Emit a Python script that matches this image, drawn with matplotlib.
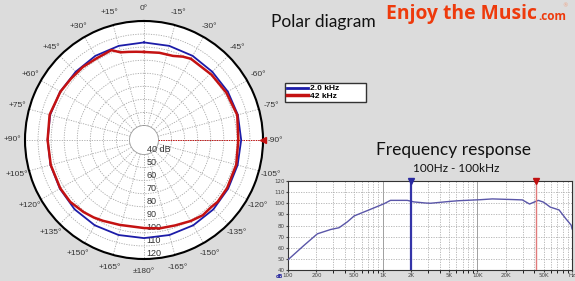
import numpy as np
import matplotlib
matplotlib.use('Agg')
import matplotlib.pyplot as plt
from matplotlib.lines import Line2D
from matplotlib.patches import Circle

# --- polar data: angle in degrees (+ = left of the axis), level in dB ---
angles_2k = [0, 15, 30, 45, 60, 75, 90, 105, 120, 135, 150, 165, 180,
             -165, -150, -135, -120, -105, -90, -75, -60, -45, -30, -15, 0]
level_2k = [103.6, 103.5, 103.3, 102.8, 103.0, 103.3, 102.7, 103.0, 103.3, 104.0, 104.3, 104.2, 104.0,
            104.2, 104.3, 104.0, 103.3, 103.1, 103.3, 103.3, 103.0, 102.8, 103.3, 103.5, 103.6]

angles_42k = [0, 5, 10, 15, 18, 20, 25, 30, 40, 50, 60, 75, 90, 105, 120, 130, 140, 147, 153, 164, 180,
              -170, -160, -150, -142, -135, -130, -120, -105, -90, -75, -60, -46, -40, -30, -25, -19, -10, 0]
level_42k = [96.3, 96.7, 97.4, 98.4, 100.5, 102.1, 101.3, 101.2, 101.8, 101.9, 102.8, 103.7, 102.7, 102.8, 102.9,
             102.6, 100.9, 99.6, 98.3, 96.5, 96.3,
             97.6, 98.5, 100.5, 102.0, 101.6, 102.5, 102.4, 102.0, 101.1, 102.8, 101.6, 100.8, 100.1, 100.7,
             99.3, 97.0, 96.7, 96.3]

ring_levels = [40, 50, 60, 70, 80, 90, 100, 110, 120]
ring_labels = ['40 dB', '50', '60', '70', '80', '90', '100', '110', '120']

# --- frequency response data ---
freq = [100, 147, 204, 282, 346, 424, 500, 717, 1030, 1210, 1820, 2140, 2850, 3200, 5200, 6400,
        10800, 14400, 24000, 29900, 35600, 44000, 50000, 59000, 73000, 85500, 98000, 100000]
level = [49.2, 62.0, 72.5, 76.4, 78.0, 83.3, 88.6, 94.0, 99.5, 102.6, 102.6, 101.2, 100.2, 100.0, 101.7, 102.3,
         103.2, 103.9, 103.3, 103.0, 99.3, 102.6, 101.0, 96.5, 94.0, 86.4, 80.3, 77.0]
freq_ticks = [100, 200, 500, 1000, 2000, 5000, 10000, 20000, 50000, 100000]
freq_labels = ['100', '200', '500', '1K', '2K', '5K', '10K', '20K', '50K', 'Hz']
marker_blue = 2000
marker_red = 42000

bg = '#dcdcdc'
blue = '#1c1ca8'
red = '#c41212'

fig = plt.figure(figsize=(5.75, 2.81), dpi=100, facecolor=bg)

# ---------------- polar diagram ----------------
ax = fig.add_axes([25 / 575, 22 / 281, 238 / 575, 238 / 281], projection='polar')
ax.set_theta_zero_location('N')
ax.set_theta_direction(1)
ax.set_rlim(40, 120)
ax.set_rorigin(28.9)
ax.add_patch(Circle((0.5, 0.5), 0.5, transform=ax.transAxes, facecolor='white',
                    edgecolor='none', zorder=0, clip_on=False))

tick_deg = np.arange(0, 360, 15)
tick_lab = []
for a in tick_deg:
    if a == 0:
        tick_lab.append('0°')
    elif a == 180:
        tick_lab.append('±180°')
    elif a < 180:
        tick_lab.append('+%d°' % a)
    else:
        tick_lab.append('-%d°' % (360 - a))
ax.set_thetagrids(tick_deg, tick_lab, fontsize=6, color='#333333', family='Liberation Sans')
ax.tick_params(axis='x', pad=-1.5)
ax.set_rgrids(ring_levels[1:-1], labels=[''] * 7)
ax.grid(True, color='#a8a8a8', linestyle=(0, (1.5, 1.5)), linewidth=0.6)
ax.spines['polar'].set_color('black')
ax.spines['polar'].set_linewidth(1.5)
ax.spines['inner'].set_color('#999999')
ax.spines['inner'].set_linewidth(0.6)

for r, lab in zip(ring_levels, ring_labels):
    ax.annotate(lab, xy=(np.pi, r), xytext=(2, 0.5), textcoords='offset points',
                ha='left', va='bottom', fontsize=6.5, color='#333333', family='Liberation Sans')

th2 = np.unwrap(np.deg2rad(np.mod(angles_2k, 360)))
th42 = np.unwrap(np.deg2rad(np.mod(angles_42k, 360)))
ax.plot(th2, level_2k, color=blue, lw=1.3, zorder=5)
ax.plot(th42, level_42k, color=red, lw=1.8, zorder=6)
ax.plot([-np.pi / 2, -np.pi / 2], [40, 120], color=red, lw=0.7, ls=(0, (1.5, 1)), zorder=4)
ax.plot([-np.pi / 2], [120], marker='<', color=red, ms=4, clip_on=False, zorder=7)

# ---------------- legend ----------------
handles = [Line2D([], [], color=blue, lw=2), Line2D([], [], color=red, lw=2.5)]
leg = fig.legend(handles, ['2.0 kHz', '42 kHz'], loc='upper left', mode='expand',
                 bbox_to_anchor=(285 / 575, 1 - 102 / 281, 81 / 575, 19 / 281),
                 prop={'weight': 'bold', 'size': 6, 'family': 'Liberation Sans'},
                 frameon=True, fancybox=False, edgecolor='#333333', framealpha=1,
                 handlelength=2.6, handletextpad=0.2, labelspacing=0.0, borderpad=0.2,
                 borderaxespad=0)
leg.get_frame().set_linewidth(1.0)

# ---------------- frequency response ----------------
ax2 = fig.add_axes([288 / 575, 11 / 281, 284 / 575, 89 / 281])
ax2.set_facecolor('white')
ax2.semilogx(freq, level, color='#5a56a8', lw=1.0, zorder=3)
ax2.set_xlim(100, 100000)
ax2.set_ylim(40, 120)
ax2.set_yticks(np.arange(40, 121, 10))
ax2.set_xticks(freq_ticks)
ax2.set_xticklabels(freq_labels)
ax2.tick_params(labelsize=4, length=1.5, pad=1, colors='#444444')
ax2.xaxis.set_minor_formatter(plt.NullFormatter())
ax2.grid(True, which='major', axis='y', color='#b0b0b0', ls=(0, (1.5, 1.5)), lw=0.6)
ax2.grid(True, which='minor', axis='x', color='#b0b0b0', ls=(0, (1.5, 1.5)), lw=0.6)
for f in [1000, 10000]:
    ax2.axvline(f, color='#a0a0a0', lw=0.7, zorder=1)
for f in [200, 500, 2000, 5000, 20000, 50000]:
    ax2.axvline(f, color='#b0b0b0', lw=0.6, ls=(0, (1.5, 1.5)), zorder=1)
ax2.axvline(marker_blue, color='#3434a8', lw=1.6, zorder=4)
ax2.plot([marker_blue], [120], marker='v', color='#2a2aa0', ms=4, clip_on=False, zorder=5)
ax2.axvline(marker_red, color='#e07a7a', lw=1.0, zorder=4)
ax2.plot([marker_red], [120], marker='v', color='#c01010', ms=4, clip_on=False, zorder=5)
for s in ax2.spines.values():
    s.set_color('#333333')
    s.set_linewidth(0.8)
fig.text(283.5 / 575, 1 - 276 / 281, 'dB', fontsize=3.5, color='#2a2aa0', ha='right', va='center',
         weight='bold')

# ---------------- texts ----------------
fig.text(323 / 575, 1 - 22 / 281, 'Polar diagram', fontsize=12.5, family='Lato',
         ha='center', va='center', color='#111111')
fig.text(454 / 575, 1 - 150 / 281, 'Frequency response', fontsize=12.5, family='Lato',
         ha='center', va='center', color='#111111')
fig.text(456 / 575, 1 - 169 / 281, '100Hz - 100kHz', fontsize=8.5, family='Lato',
         ha='center', va='center', color='#111111')
fig.text(537 / 575, 1 - 14 / 281, 'Enjoy the Music', fontsize=13.9, family='Open Sans', weight='bold',
         ha='right', va='center', color='#ee3a0c')
fig.text(538 / 575, 1 - 16 / 281, '.com', fontsize=8.5, family='Open Sans', weight='bold',
         ha='left', va='center', color='#ee3a0c')
fig.text(565 / 575, 1 - 6 / 281, '®', fontsize=4, ha='center', va='center', color='#f0a080')

fig.savefig('out.png', dpi=100, facecolor=bg)
